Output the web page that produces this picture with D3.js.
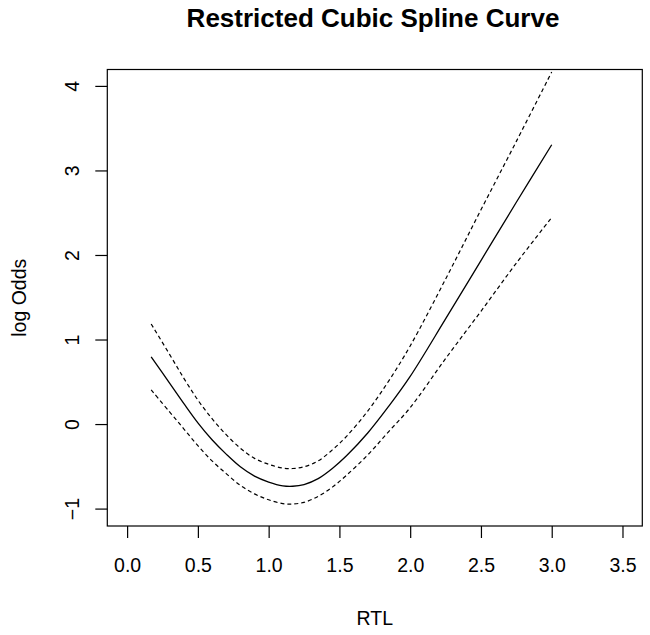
<!DOCTYPE html>
<html>
<head>
<meta charset="utf-8">
<script src="https://cdn.jsdelivr.net/npm/d3@7"></script>
<style>
  html, body { margin: 0; padding: 0; background: #ffffff; }
  svg { display: block; }
  text { font-family: "Liberation Sans", Arial, Helvetica, sans-serif; fill: #000; }
</style>
</head>
<body>
<svg id="chart" width="650" height="635"></svg>
<script>
// ---- data ----
const rtl      = [0.17, 0.3, 0.4, 0.5, 0.6, 0.7, 0.8, 0.9, 1.0, 1.1, 1.17, 1.25, 1.35, 1.45, 1.55, 1.7, 1.85, 2.0, 2.25, 2.5, 2.75, 3.0];
const logOdds  = [0.80, 0.49, 0.25, 0.02, -0.18, -0.35, -0.50, -0.61, -0.68, -0.725, -0.73, -0.71, -0.64, -0.52, -0.37, -0.10, 0.22, 0.57, 1.25, 1.94, 2.63, 3.31];
const upperCI  = [1.19, 0.83, 0.55, 0.29, 0.07, -0.12, -0.28, -0.40, -0.47, -0.515, -0.52, -0.50, -0.43, -0.30, -0.14, 0.16, 0.52, 0.93, 1.72, 2.54, 3.35, 4.17];
const lowerCI  = [0.41, 0.15, -0.05, -0.25, -0.43, -0.58, -0.72, -0.82, -0.89, -0.935, -0.94, -0.92, -0.85, -0.74, -0.60, -0.36, -0.08, 0.20, 0.78, 1.34, 1.91, 2.45];
const xTicks   = [0, 0.5, 1, 1.5, 2, 2.5, 3, 3.5];
const yTicks   = [-1, 0, 1, 2, 3, 4];
const xLim     = [0, 3.5];
const yLim     = [-1, 4];

const titleText = "Restricted Cubic Spline Curve";
const xLabel = "RTL";
const yLabel = "log Odds";

// ---- layout ----
const svg = d3.select("#chart");
const plot = { left: 107.3, right: 642.3, top: 69.5, bottom: 526 };

// R-style 4% axis extension
const ext = (lim) => { const d = (lim[1] - lim[0]) * 0.04; return [lim[0] - d, lim[1] + d]; };

const x = d3.scaleLinear().domain(ext(xLim)).range([plot.left, plot.right]);
const y = d3.scaleLinear().domain(ext(yLim)).range([plot.bottom, plot.top]);

// box
svg.append("rect")
  .attr("x", plot.left).attr("y", plot.top)
  .attr("width", plot.right - plot.left).attr("height", plot.bottom - plot.top)
  .attr("fill", "none").attr("stroke", "#000").attr("stroke-width", 1.2);

// x axis
const xAxis = d3.axisBottom(x).tickValues(xTicks).tickFormat(d3.format(".1f"))
  .tickSizeInner(12).tickSizeOuter(0).tickPadding(20);
const gx = svg.append("g").attr("transform", `translate(0,${plot.bottom})`).call(xAxis);
gx.select(".domain").remove();
gx.selectAll("line").attr("stroke", "#000").attr("stroke-width", 1.2);
gx.selectAll("text").attr("font-size", 19.5).attr("font-family", "Liberation Sans, Arial, sans-serif").attr("fill", "#000");

// y axis
const yAxis = d3.axisLeft(y).tickValues(yTicks).tickFormat(d3.format("d"))
  .tickSizeInner(12).tickSizeOuter(0).tickPadding(0);
const gy = svg.append("g").attr("transform", `translate(${plot.left},0)`).call(yAxis);
gy.select(".domain").remove();
gy.selectAll("line").attr("stroke", "#000").attr("stroke-width", 1.2);
gy.selectAll("text")
  .attr("font-size", 19.5).attr("font-family", "Liberation Sans, Arial, sans-serif").attr("fill", "#000")
  .attr("x", null).attr("dy", null)
  .attr("text-anchor", "middle")
  .attr("transform", d => `translate(${78.5 - plot.left},${y(d)}) rotate(-90)`)
  .attr("y", 0);
gy.selectAll(".tick").attr("transform", null);
gy.selectAll(".tick line").attr("transform", d => `translate(0,${y(d)})`);

// lines
const line = d3.line().x(d => x(d[0])).y(d => y(d[1])).curve(d3.curveCatmullRom.alpha(0.5));
const mk = (vals) => rtl.map((r, i) => [r, vals[i]]);

svg.append("path").datum(mk(upperCI)).attr("d", line)
  .attr("fill", "none").attr("stroke", "#000").attr("stroke-width", 1.2).attr("stroke-dasharray", "4,3");
svg.append("path").datum(mk(lowerCI)).attr("d", line)
  .attr("fill", "none").attr("stroke", "#000").attr("stroke-width", 1.2).attr("stroke-dasharray", "4,3");
svg.append("path").datum(mk(logOdds)).attr("d", line)
  .attr("fill", "none").attr("stroke", "#000").attr("stroke-width", 1.3);

// title
svg.append("text").attr("x", 373).attr("y", 27)
  .attr("text-anchor", "middle").attr("font-size", 26).attr("font-weight", "bold")
  .text(titleText);

// x label
svg.append("text").attr("x", (plot.left + plot.right) / 2).attr("y", 625)
  .attr("text-anchor", "middle").attr("font-size", 19.5).text(xLabel);

// y label
svg.append("text")
  .attr("transform", `translate(26,${(plot.top + plot.bottom) / 2}) rotate(-90)`)
  .attr("text-anchor", "middle").attr("font-size", 19.5).text(yLabel);
</script>
</body>
</html>
